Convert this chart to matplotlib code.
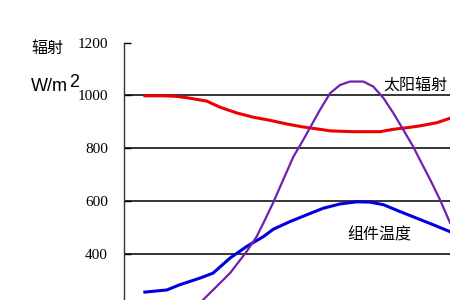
import matplotlib
matplotlib.use('Agg')
import matplotlib.pyplot as plt
import matplotlib.transforms as mtransforms

# data (x in hours, y on the W/m2 scale)
red_h = [6.00, 6.50, 6.88, 7.17, 7.75, 8.12, 8.60, 9.06, 9.54, 10.02, 10.47, 10.95, 11.24, 11.90,
         12.65, 13.03, 13.41, 13.78, 14.26, 14.63]
red_v = [998, 998, 996, 991, 978, 955, 933, 917, 905, 891, 880, 871, 865, 862,
         862, 871, 877, 884, 896, 913]

purple_h = [7.50, 7.65, 8.41, 8.88, 9.16, 9.35, 9.63, 9.91, 10.20, 10.48, 10.95, 11.24, 11.52, 11.80,
            12.18, 12.46, 12.75, 13.03, 13.31, 13.59, 13.78, 14.07, 14.35, 14.63]
purple_v = [200, 225, 326, 408, 464, 515, 593, 679, 767, 831, 944, 1008, 1039, 1052,
            1052, 1033, 989, 932, 869, 805, 755, 680, 603, 517]

blue_h = [6.00, 6.62, 6.99, 7.56, 7.93, 8.41, 8.88, 9.35, 9.63, 10.10, 10.58, 11.05, 11.52, 11.99,
          12.37, 12.75, 13.22, 13.69, 14.16, 14.63]
blue_v = [254, 262, 282, 307, 326, 383, 427, 464, 492, 521, 547, 572, 588, 596,
          595, 585, 559, 534, 509, 483]

yticks = [400, 600, 800, 1000, 1200]
grid_vals = [400, 600, 800, 1000]

cjk = ['Noto Sans CJK SC', 'DejaVu Sans']

fig = plt.figure(figsize=(4.5, 3), dpi=100)
ax = fig.add_axes([124 / 450, 0, 1 - 124 / 450, 1 - 42.5 / 300])

for g in grid_vals:
    ax.axhline(g, color='black', lw=1.1, zorder=1)

ax.plot(red_h, red_v, color='#ee0000', lw=2.2, zorder=3, solid_joinstyle='round')
ax.plot(blue_h, blue_v, color='#0000e0', lw=2.2, zorder=3, solid_joinstyle='round')
ax.plot(purple_h, purple_v, color='#7020b0', lw=1.6, zorder=4, solid_joinstyle='round')

ax.set_yticks(yticks)
ax.set_yticklabels([str(v) for v in yticks], fontfamily='Liberation Serif', fontsize=11)
ax.set_xlim(5.41, 14.63)
ax.set_ylim(224, 1200)
ax.tick_params(axis='y', direction='in', length=5, width=1, pad=11.5, colors='black')
ax.set_xticks([])
for s in ['top', 'right', 'bottom']:
    ax.spines[s].set_visible(False)
ax.spines['left'].set_linewidth(1)
ax.spines['left'].set_color('#333333')

# the 200 label sits just below the picture edge, only its top shows
trans = mtransforms.blended_transform_factory(fig.transFigure, ax.transData)
ax.text(108 / 450, 200, '200', transform=trans, ha='right', va='center_baseline',
        fontfamily='Liberation Serif', fontsize=11, clip_on=False, color='#cccccc')

fig.text(383 / 450, 1 - 86 / 300, '太阳辐射', family=cjk, fontsize=11.5, va='center', ha='left')
fig.text(347 / 450, 1 - 235 / 300, '组件温度', family=cjk, fontsize=11.5, va='center', ha='left')
fig.text(31 / 450, 1 - 48 / 300, '辐射', family=cjk, fontsize=11.5, va='center', ha='left')
fig.text(31 / 450, 1 - 86.5 / 300, 'W/m', family='Liberation Sans', fontsize=13, va='center', ha='left')
fig.text(69.5 / 450, 1 - 83 / 300, '2', family='Liberation Sans', fontsize=13, va='center', ha='left')

fig.savefig('out.png', dpi=100)
